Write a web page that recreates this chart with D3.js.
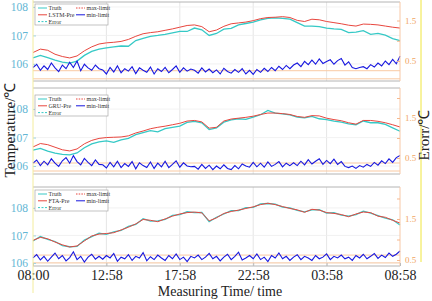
<!DOCTYPE html>
<html>
<head>
<meta charset="utf-8">
<script src="https://cdn.jsdelivr.net/npm/d3@7"></script>
<style>
  body { margin: 0; background: #fff; }
  svg { display: block; font-family: "Liberation Serif", "Times New Roman", serif; }
</style>
</head>
<body>
<svg id="chart" width="432" height="301"></svg>
<script>
// tick labels / categories
var timeLabels = ["08:00", "12:58", "17:58", "22:58", "03:58", "08:58"];
var modelNames = ["LSTM-Pre", "GRU-Pre", "FTA-Pre"];

// temperature every 0.5 h (51 points), error every 0.25 h (101 points)
var truth1 = [106.21,106.30,106.22,106.13,106.06,106.03,106.10,106.30,106.44,106.52,106.56,106.60,106.63,106.62,106.82,106.90,106.97,107.00,107.04,107.09,107.14,107.14,107.26,107.20,107.00,107.07,107.22,107.25,107.37,107.42,107.47,107.55,107.60,107.62,107.60,107.57,107.45,107.33,107.33,107.31,107.26,107.23,107.21,107.10,107.12,107.17,107.04,107.07,107.01,106.89,106.82];
var pred1 = [106.40,106.52,106.48,106.34,106.26,106.21,106.28,106.46,106.60,106.70,106.74,106.76,106.79,106.86,106.97,107.06,107.10,107.13,107.18,107.23,107.29,107.35,107.37,107.31,107.13,107.19,107.32,107.41,107.44,107.47,107.52,107.59,107.63,107.64,107.66,107.63,107.53,107.49,107.57,107.55,107.49,107.45,107.41,107.36,107.33,107.40,107.39,107.37,107.33,107.29,107.26];
var error1 = [0.34,0.42,0.27,0.38,0.29,0.45,0.33,0.24,0.40,0.31,0.47,0.34,0.50,0.26,0.42,0.33,0.27,0.40,0.31,
  0.28,0.18,0.34,0.23,0.38,0.21,0.31,0.25,0.36,0.19,0.33,0.27,0.22,0.35,0.18,0.31,0.24,0.34,0.21,0.29,0.38,0.22,0.33,0.25,0.30,
  0.27,0.20,0.33,0.23,0.30,0.21,0.28,0.18,0.32,0.24,0.20,0.29,0.22,0.31,0.18,0.27,0.17,0.29,0.22,0.32,0.24,0.34,0.26,0.37,0.29,0.39,0.31,
  0.40,0.45,0.36,0.49,0.41,0.52,0.42,0.55,0.44,0.49,0.53,0.42,0.51,0.56,0.40,0.48,0.34,0.31,0.34,0.36,
  0.31,0.41,0.35,0.45,0.38,0.50,0.41,0.54,0.43,0.62];
var limits1 = [0.26, 0.06];

var truth2 = [106.56,106.62,106.52,106.45,106.41,106.39,106.46,106.64,106.78,106.85,106.88,106.83,106.92,106.97,107.10,107.17,107.24,107.20,107.31,107.36,107.40,107.53,107.57,107.52,107.28,107.34,107.54,107.62,107.66,107.64,107.72,107.80,107.95,107.86,107.83,107.80,107.72,107.69,107.74,107.66,107.63,107.58,107.54,107.48,107.45,107.58,107.52,107.52,107.46,107.34,107.22];
var pred2 = [106.67,106.79,106.75,106.66,106.57,106.53,106.60,106.78,106.90,106.97,107.00,107.01,107.02,107.06,107.16,107.23,107.31,107.36,107.40,107.45,107.50,107.58,107.60,107.55,107.33,107.36,107.58,107.65,107.68,107.71,107.75,107.81,107.86,107.86,107.84,107.81,107.74,107.71,107.77,107.76,107.68,107.63,107.59,107.52,107.47,107.60,107.60,107.57,107.52,107.45,107.37];
var error2 = [0.37,0.45,0.31,0.42,0.33,0.48,0.37,0.29,0.43,0.51,0.37,0.56,0.41,0.33,0.49,0.39,0.31,0.45,0.34,
  0.33,0.25,0.39,0.28,0.42,0.26,0.36,0.29,0.41,0.23,0.38,0.31,0.26,0.40,0.24,0.37,0.28,0.42,0.26,0.34,0.43,0.27,0.38,0.30,0.28,
  0.29,0.22,0.34,0.24,0.32,0.21,0.30,0.23,0.33,0.24,0.21,0.31,0.23,0.35,0.30,0.27,0.39,0.28,0.37,0.27,0.40,0.29,0.34,0.41,0.28,0.37,0.31,
  0.38,0.31,0.42,0.33,0.46,0.35,0.42,0.48,0.34,0.44,0.36,0.47,0.34,0.41,0.29,0.26,0.30,0.24,0.31,0.27,
  0.34,0.29,0.39,0.32,0.43,0.36,0.48,0.39,0.51,0.56];
var limits2 = [0.375, 0.175];

var truth3 = [106.80,106.96,106.86,106.78,106.63,106.59,106.60,106.83,106.96,107.08,107.04,107.13,107.18,107.33,107.40,107.61,107.52,107.53,107.58,107.73,107.76,107.86,107.83,107.84,107.50,107.66,107.78,107.90,107.90,108.01,108.02,108.15,108.16,108.14,108.03,108.00,107.91,107.86,107.93,107.94,107.81,107.83,107.74,107.70,107.76,107.88,107.81,107.72,107.63,107.57,107.38];
var pred3 = [106.82,106.93,106.88,106.76,106.66,106.58,106.62,106.80,106.98,107.05,107.07,107.10,107.20,107.30,107.42,107.58,107.55,107.50,107.60,107.70,107.78,107.83,107.85,107.82,107.53,107.64,107.80,107.87,107.92,107.98,108.04,108.12,108.17,108.12,108.05,107.98,107.93,107.84,107.95,107.92,107.83,107.80,107.76,107.68,107.78,107.85,107.83,107.70,107.66,107.55,107.45];
var error3 = [0.55,0.63,0.50,0.59,0.47,0.57,0.67,0.53,0.61,0.48,0.56,0.70,0.51,0.59,0.45,0.57,0.64,0.52,0.59,
  0.52,0.61,0.55,0.66,0.47,0.57,0.53,0.63,0.49,0.59,0.55,0.68,0.48,0.58,0.51,0.62,0.55,0.49,0.61,0.53,0.65,0.51,0.57,0.46,0.59,
  0.55,0.62,0.51,0.57,0.66,0.53,0.59,0.48,0.57,0.64,0.51,0.59,0.69,0.50,0.55,0.61,0.53,0.65,0.51,0.57,0.46,0.61,0.55,0.67,0.53,0.59,0.49,
  0.57,0.63,0.51,0.59,0.55,0.49,0.61,0.53,0.57,0.65,0.51,0.59,0.55,0.62,0.53,0.57,0.49,0.61,0.55,0.64,
  0.53,0.59,0.66,0.54,0.62,0.56,0.67,0.59,0.64,0.72];
var limits3 = [0.62, 0.43];

var leftTicks = [106, 107, 108];
var rightTicks = [0, 0.5, 1, 1.5, 2];

// layout of the three stacked panels
var panels = [
  { name: modelNames[0], truth: truth1, pred: pred1, err: error1, lim: limits1, top: 2,   bottom: 81,  tD: [105.40, 108.175], eD: [0.006, 1.957], legendTop: 4 },
  { name: modelNames[1], truth: truth2, pred: pred2, err: error2, lim: limits2, top: 88,  bottom: 174, tD: [105.72, 108.74],  eD: [0.10, 2.25],   legendTop: 95 },
  { name: modelNames[2], truth: truth3, pred: pred3, err: error3, lim: limits3, top: 187, bottom: 266, tD: [105.89, 108.76],  eD: [0.354, 2.28],  legendTop: 190 }
];

var left = 33, right = 400;
var cTruth = "#36c9c6", cPred = "#e8463e", cErr = "#1717df";

var svg = d3.select("#chart");
var x = d3.scaleLinear().domain([0, 25]).range([left, right]);
var xTicks = [0, 5, 10, 15, 20, 25];

panels.forEach(function(p) {
  var yT = d3.scaleLinear().domain(p.tD).range([p.bottom, p.top]);
  var yE = d3.scaleLinear().domain(p.eD).range([p.bottom, p.top]);
  var g = svg.append("g");

  // grid
  g.selectAll("line.vg").data(xTicks.slice(1, 5)).enter().append("line")
    .attr("x1", function(d) { return x(d); }).attr("x2", function(d) { return x(d); })
    .attr("y1", p.top).attr("y2", p.bottom)
    .attr("stroke", "#dedede").attr("stroke-width", 0.8);
  g.selectAll("line.hg").data(leftTicks).enter().append("line")
    .attr("x1", left).attr("x2", right)
    .attr("y1", function(d) { return yT(d); }).attr("y2", function(d) { return yT(d); })
    .attr("stroke", "#efefef").attr("stroke-width", 0.8);

  // limit lines
  g.selectAll("line.lim").data(p.lim).enter().append("line")
    .attr("x1", left).attr("x2", right)
    .attr("y1", function(d) { return yE(d); }).attr("y2", function(d) { return yE(d); })
    .attr("stroke", "#f9c9a2").attr("stroke-width", 1);

  var lineT = d3.line().x(function(d, i) { return x(i * 0.5); }).y(function(d) { return yT(d); });
  var lineE = d3.line().x(function(d, i) { return x(i * 0.25); }).y(function(d) { return yE(d); });

  g.append("path").attr("d", lineT(p.truth)).attr("fill", "none").attr("stroke", cTruth).attr("stroke-width", 1.3);
  g.append("path").attr("d", lineT(p.pred)).attr("fill", "none").attr("stroke", cPred).attr("stroke-width", 1);
  g.append("path").attr("d", lineE(p.err)).attr("fill", "none").attr("stroke", cErr).attr("stroke-width", 1.1);

  // frame
  g.append("line").attr("x1", left).attr("x2", right).attr("y1", p.top).attr("y2", p.top).attr("stroke", "#b4b4b4");
  g.append("line").attr("x1", left).attr("x2", right).attr("y1", p.bottom).attr("y2", p.bottom).attr("stroke", "#b4b4b4");
  g.append("line").attr("x1", right).attr("x2", right).attr("y1", p.top).attr("y2", p.bottom).attr("stroke", "#f8c8a6");

  // axes
  var ax = g.append("g").attr("transform", "translate(" + left + ",0)")
    .call(d3.axisLeft(yT).tickValues(leftTicks).tickFormat(d3.format("d")).tickSizeInner(-3).tickSizeOuter(0).tickPadding(5));
  ax.select(".domain").remove();
  ax.selectAll("line").attr("stroke", "#9fd3e3");
  ax.selectAll("text").attr("fill", "#62b6d4").style("font-size", "11.5px").style("font-family", "Liberation Serif");

  var rt = rightTicks.filter(function(d) { return d >= p.eD[0] && d <= p.eD[1]; });
  var ar = g.append("g").attr("transform", "translate(" + right + ",0)")
    .call(d3.axisRight(yE).tickValues(rt).tickFormat(function(d) { return (d === 0.5 || d === 1.5) ? d : ""; })
      .tickSizeInner(-3).tickSizeOuter(0).tickPadding(5));
  ar.select(".domain").remove();
  ar.selectAll("line").attr("stroke", "#f6b88e");
  ar.selectAll("text").attr("fill", "#f1a561").style("font-size", "9px").style("font-family", "Liberation Serif");

  // legend
  var lg = g.append("g").attr("transform", "translate(35," + p.legendTop + ")");
  lg.append("rect").attr("width", 73).attr("height", 21).attr("fill", "#fff").attr("stroke", "#a8a8a8").attr("stroke-width", 0.7);
  var items = [
    { label: "Truth",     color: cTruth, dash: null,  col: 0, row: 0 },
    { label: p.name,      color: cPred,  dash: null,  col: 0, row: 1 },
    { label: "Error",     color: cTruth, dash: "2,1.5", col: 0, row: 2 },
    { label: "max-limit", color: cPred,  dash: "1.5,1.2", col: 1, row: 0 },
    { label: "min-limit", color: cErr,   dash: null,  col: 1, row: 1 }
  ];
  items.forEach(function(it) {
    var ox = it.col === 0 ? 3 : 41, oy = 4 + it.row * 6.8;
    lg.append("line").attr("x1", ox).attr("x2", ox + 9).attr("y1", oy).attr("y2", oy)
      .attr("stroke", it.color).attr("stroke-width", 1).attr("stroke-dasharray", it.dash);
    lg.append("text").attr("x", ox + 10.5).attr("y", oy + 2).text(it.label)
      .style("font-size", "6px").attr("fill", "#333");
  });
});

// x axis labels under the last panel
var xa = svg.append("g").attr("transform", "translate(0,266)")
  .call(d3.axisBottom(x).tickValues(xTicks).tickFormat(function(d, i) { return timeLabels[i]; })
    .tickSizeInner(-3).tickSizeOuter(0).tickPadding(4));
xa.select(".domain").remove();
xa.selectAll("line").attr("stroke", "#bbb");
xa.selectAll("text").attr("fill", "#222").style("font-size", "14px").style("font-family", "Liberation Serif");

// side lines
svg.append("line").attr("x1", left).attr("x2", left).attr("y1", 0).attr("y2", 293).attr("stroke", "#f3ec9c").attr("stroke-width", 1);
svg.append("line").attr("x1", 421).attr("x2", 421).attr("y1", 0).attr("y2", 262).attr("stroke", "#f0e63c").attr("stroke-width", 1);

// titles
svg.append("text").attr("transform", "translate(15,130) rotate(-90)").attr("text-anchor", "middle")
  .style("font-size", "15px").attr("fill", "#222").text("Temperature/℃");
svg.append("text").attr("transform", "translate(429,135) rotate(-90)").attr("text-anchor", "middle")
  .style("font-size", "15px").attr("fill", "#222").text("Erorr/℃");
svg.append("text").attr("x", 220).attr("y", 296).attr("text-anchor", "middle")
  .style("font-size", "14px").attr("fill", "#222").text("Measuring Time/ time");
</script>
</body>
</html>
